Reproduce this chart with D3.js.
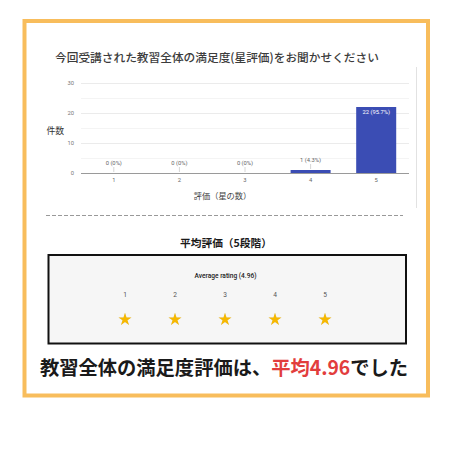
<!DOCTYPE html>
<html>
<head>
<meta charset="utf-8">
<script src="https://cdn.jsdelivr.net/npm/d3@7"></script>
<style>
  html, body { margin: 0; padding: 0; background: #fff; }
  svg { display: block; }
</style>
</head>
<body>
<svg id="chart" width="450" height="450"></svg>
<script>
// ---- data ----
const ratings = ["1", "2", "3", "4", "5"];
const counts = [0, 0, 0, 1, 22];
const barLabels = ["0 (0%)", "0 (0%)", "0 (0%)", "1 (4.3%)", "22 (95.7%)"];
const yTicks = [0, 10, 20, 30];
const gridValues = [5, 10, 15, 20, 25, 30];
const starLabels = ["1", "2", "3", "4", "5"];
const averageRating = 4.96;

const titleText = "今回受講された教習全体の満足度(星評価)をお聞かせください";
const yTitle = "件数";
const xTitle = "評価（星の数）";
const sectionTitle = "平均評価（5段階）";
const avgTitle = "Average rating (4.96)";
const summaryParts = [
  { t: "教習全体の満足度評価は、", red: false },
  { t: "平均4.96", red: true },
  { t: "でした", red: false }
];

// ---- setup ----
const svg = d3.select("#chart");
const JP = "'Noto Sans CJK JP', 'Noto Sans', sans-serif";
const RB = "Roboto, 'Noto Sans', sans-serif";

svg.append("rect").attr("x", 0).attr("y", 0).attr("width", 450).attr("height", 450).attr("fill", "#fff");

// outer orange frame
svg.append("rect")
  .attr("x", 24.5).attr("y", 21)
  .attr("width", 403.5).attr("height", 374.5)
  .attr("fill", "#fff")
  .attr("stroke", "#F8BD5C")
  .attr("stroke-width", 4);

// faint card edge on the right
svg.append("line")
  .attr("x1", 416.5).attr("x2", 416.5).attr("y1", 67).attr("y2", 208)
  .attr("stroke", "#e2e2e2").attr("stroke-width", 1);

// title
svg.append("text")
  .attr("x", 55).attr("y", 62)
  .attr("font-family", JP).attr("font-size", 11.7).attr("font-weight", 500)
  .attr("fill", "#3c3c3c")
  .text(titleText);

// ---- bar chart ----
const x = d3.scaleBand().domain(ratings).range([81, 409]).paddingInner(0.39).paddingOuter(0.195);
const y = d3.scaleLinear().domain([0, 30]).range([173, 83]);

const plot = svg.append("g");

// gridlines
plot.selectAll("line.grid").data(gridValues).join("line")
  .attr("class", "grid")
  .attr("x1", 81).attr("x2", 409)
  .attr("y1", d => y(d) + 0.5).attr("y2", d => y(d) + 0.5)
  .attr("stroke", d => d % 10 === 0 ? "#ebebeb" : "#f4f4f4")
  .attr("stroke-width", 1);

// y tick labels
plot.selectAll("text.ytick").data(yTicks).join("text")
  .attr("class", "ytick")
  .attr("x", 74).attr("y", d => y(d) + 2)
  .attr("text-anchor", "end")
  .attr("font-family", RB).attr("font-size", 5.8)
  .attr("fill", "#777")
  .text(d => d);

// bars
plot.selectAll("rect.bar").data(ratings).join("rect")
  .attr("class", "bar")
  .attr("x", d => x(d))
  .attr("width", x.bandwidth())
  .attr("y", (d, i) => y(counts[i]))
  .attr("height", (d, i) => y(0) - y(counts[i]))
  .attr("fill", "#3B4DB4");

// baseline
plot.append("line")
  .attr("x1", 81).attr("x2", 409).attr("y1", y(0) + 0.5).attr("y2", y(0) + 0.5)
  .attr("stroke", "#9a9a9a").attr("stroke-width", 1);

// leader lines for small bars
plot.selectAll("line.leader").data(ratings.filter((d, i) => counts[i] < 5)).join("line")
  .attr("class", "leader")
  .attr("x1", d => x(d) + x.bandwidth() / 2).attr("x2", d => x(d) + x.bandwidth() / 2)
  .attr("y1", d => y(counts[ratings.indexOf(d)]) - 6)
  .attr("y2", d => y(counts[ratings.indexOf(d)]) - 1)
  .attr("stroke", "#d6d6d6").attr("stroke-width", 1);

// bar labels
plot.selectAll("text.blab").data(ratings).join("text")
  .attr("class", "blab")
  .attr("x", d => x(d) + x.bandwidth() / 2)
  .attr("y", (d, i) => counts[i] >= 5 ? y(counts[i]) + 7 : y(counts[i]) - 8)
  .attr("text-anchor", "middle")
  .attr("font-family", RB).attr("font-size", 5.8)
  .attr("fill", (d, i) => counts[i] >= 5 ? "#fff" : "#666")
  .text((d, i) => barLabels[i]);

// x tick labels
plot.selectAll("text.xtick").data(ratings).join("text")
  .attr("class", "xtick")
  .attr("x", d => x(d) + x.bandwidth() / 2)
  .attr("y", 182)
  .attr("text-anchor", "middle")
  .attr("font-family", RB).attr("font-size", 5.8)
  .attr("fill", "#666")
  .text(d => d);

// axis titles
svg.append("text")
  .attr("x", 222.5).attr("y", 199)
  .attr("text-anchor", "middle")
  .attr("font-family", JP).attr("font-size", 8.2)
  .attr("fill", "#444")
  .text(xTitle);

svg.append("text")
  .attr("x", 46.5).attr("y", 134)
  .attr("font-family", JP).attr("font-size", 8.8)
  .attr("fill", "#333")
  .text(yTitle);

// dashed separator
svg.append("line")
  .attr("x1", 46).attr("x2", 403).attr("y1", 215.5).attr("y2", 215.5)
  .attr("stroke", "#999").attr("stroke-width", 1)
  .attr("stroke-dasharray", "4,2");

// section title
svg.append("text")
  .attr("x", 226).attr("y", 247)
  .attr("text-anchor", "middle")
  .attr("font-family", JP).attr("font-size", 10.7).attr("font-weight", 700)
  .attr("fill", "#1a1a1a")
  .text(sectionTitle);

// average rating box
svg.append("rect")
  .attr("x", 48.5).attr("y", 255)
  .attr("width", 357.5).attr("height", 88.5)
  .attr("fill", "#f6f6f6")
  .attr("stroke", "#111").attr("stroke-width", 2);

svg.append("text")
  .attr("x", 225.5).attr("y", 277.5)
  .attr("text-anchor", "middle")
  .attr("font-family", RB).attr("font-size", 6.6).attr("font-weight", 500)
  .attr("fill", "#222")
  .text(avgTitle);

const sx = d3.scalePoint().domain(starLabels).range([125, 325]);

svg.selectAll("text.snum").data(starLabels).join("text")
  .attr("class", "snum")
  .attr("x", d => sx(d)).attr("y", 297)
  .attr("text-anchor", "middle")
  .attr("font-family", RB).attr("font-size", 6.6)
  .attr("fill", "#555")
  .text(d => d);

const starPath = d3.symbol().type(d3.symbolStar).size(52)();
const defs = svg.append("defs");
starLabels.forEach((d, i) => {
  const frac = Math.max(0, Math.min(1, averageRating - i));
  defs.append("clipPath").attr("id", "clip" + i)
    .append("rect").attr("x", -8).attr("y", -8).attr("width", 16 * frac).attr("height", 16);
});

const stars = svg.selectAll("g.star").data(starLabels).join("g")
  .attr("class", "star")
  .attr("transform", d => `translate(${sx(d)},319.5)`);
stars.append("path").attr("d", starPath).attr("fill", "#d8d8d8");
stars.append("path").attr("d", starPath).attr("fill", "#F6B800")
  .attr("clip-path", (d, i) => `url(#clip${i})`);

// summary line
const summary = svg.append("text")
  .attr("x", 224).attr("y", 375)
  .attr("text-anchor", "middle")
  .attr("font-family", JP).attr("font-size", 19.3).attr("font-weight", 700)
  .attr("fill", "#1a1a1a");
summary.selectAll("tspan").data(summaryParts).join("tspan")
  .attr("fill", d => d.red ? "#E23D3D" : "#1a1a1a")
  .text(d => d.t);
</script>
</body>
</html>
